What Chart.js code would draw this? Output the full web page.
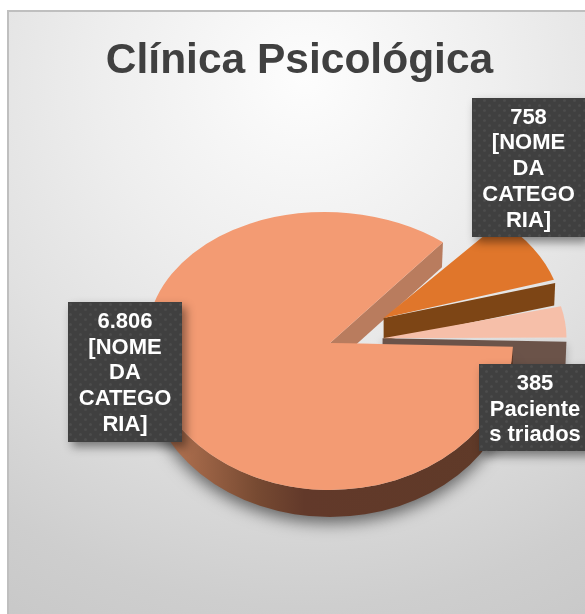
<!DOCTYPE html>
<html lang="pt-BR">
<head>
<meta charset="utf-8">
<title>Clínica Psicológica</title>
<script src="https://cdn.jsdelivr.net/npm/chart.js@4"></script>
<style>
html,body{margin:0;padding:0;width:585px;height:614px;overflow:hidden;background:#fff}
#card{position:absolute;left:7px;top:10px;width:590px;height:610px;border:2px solid #bfbfbf;border-right:0;border-bottom:0;
background:radial-gradient(circle 680px at 295px 65px,#fdfdfd 0,#eeeeee 200px,#e1e1e1 350px,#cecece 530px,#c4c4c4 680px)}
#c{position:absolute;left:7px;top:10px}
</style>
</head>
<body>
<div id="card"></div>
<canvas id="c" width="585" height="604"></canvas>
<script>
const chartTitle = 'Clínica Psicológica';
const categories = ['[NOME DA CATEGORIA]', '[NOME DA CATEGORIA]', 'Pacientes triados'];
const values = [6806, 758, 385];
const labelLines = [['[NOME', 'DA', 'CATEGO', 'RIA]'], ['[NOME', 'DA', 'CATEGO', 'RIA]'], ['Paciente', 's triados']];
const sliceColors = ['#f39b73', '#e0762b', '#f6bfa9'];
const sliceOffsets = [0, 256, 212];

const ORIGIN = {x: 7, y: 10};
const SQ_UP = 0.716, SQ_DN = 0.803, BACK_SHEAR = 0.04;
const RADIUS_FACTOR = [1, 0.975, 1.005];

function squash(ctx, y, s) { ctx.translate(0, y); ctx.scale(1, s); ctx.translate(0, -y); }

function wall(ctx, el, ang, depth, color, shadow, shear) {
  const off = (el.options.offset || 0) / 4;
  const mid = (el.startAngle + el.endAngle) / 2;
  const ax = el.x + Math.cos(mid) * off;
  const ay = el.y + Math.sin(mid) * off * SQ_UP;
  const R = el.outerRadius + off * (1 - Math.sin(Math.min(Math.PI, el.circumference)));
  const py = ay + Math.sin(ang) * R * SQ_UP;
  const px = ax + Math.cos(ang) * R + (shear ? shear * (py - el.y) : 0);
  ctx.save();
  if (shadow) { ctx.shadowColor = 'rgba(0,0,0,0.25)'; ctx.shadowBlur = 8; ctx.shadowOffsetY = 4; }
  ctx.fillStyle = color;
  ctx.beginPath();
  ctx.moveTo(ax, ay);
  ctx.lineTo(px, py);
  ctx.lineTo(px - 1, py + depth);
  ctx.lineTo(ax, ay + depth);
  ctx.closePath();
  ctx.fill();
  ctx.restore();
}

function topFace(ctx, el, s, shear) {
  ctx.save();
  if (shear) ctx.transform(1, 0, shear, 1, -shear * el.y, 0);
  squash(ctx, el.y, s);
  el.draw(ctx);
  ctx.restore();
}

function frontBand(ctx, el, depth) {
  const R = el.outerRadius, ry = R * SQ_DN;
  const g = ctx.createLinearGradient(el.x - R, 0, el.x + R, 0);
  g.addColorStop(0, '#cf8560');
  g.addColorStop(0.1, '#a96c4c');
  g.addColorStop(0.3, '#774a32');
  g.addColorStop(0.43, '#62392a');
  g.addColorStop(1, '#5f3a28');
  const sa = el.startAngle;
  ctx.save();
  ctx.shadowColor = 'rgba(0,0,0,0.55)';
  ctx.shadowBlur = 16;
  ctx.shadowOffsetY = 6;
  ctx.fillStyle = g;
  ctx.beginPath();
  ctx.ellipse(el.x, el.y, R, ry, 0, sa, Math.PI);
  ctx.ellipse(el.x, el.y + depth, R, ry, 0, Math.PI, sa, true);
  ctx.closePath();
  ctx.fill();
  ctx.restore();
}

function dotPattern(ctx) {
  const p = document.createElement('canvas');
  p.width = 10; p.height = 10;
  const c = p.getContext('2d');
  c.fillStyle = '#404040'; c.fillRect(0, 0, 10, 10);
  c.fillStyle = '#4c4c4c';
  [[2.5, 2.5], [7.5, 7.5]].forEach(([x, y]) => { c.beginPath(); c.arc(x, y, 1.5, 0, 7); c.fill(); });
  return ctx.createPattern(p, 'repeat');
}

const pie3d = {
  id: 'pie3d',
  afterLayout(chart) {
    const cx = 330 - ORIGIN.x, cy = 343 - ORIGIN.y, h = 200;
    Object.assign(chart.chartArea, {left: cx - h, right: cx + h, top: cy - h, bottom: cy + h, width: 2 * h, height: 2 * h});
  },
  afterDatasetsUpdate(chart) {
    chart.getDatasetMeta(0).data.forEach((el, i) => {
      const off = (el.options.offset || 0) / 4;
      const circ = el.circumference;
      el.outerRadius = chart.data.datasets[0].radius * RADIUS_FACTOR[i] - off * (1 - Math.sin(Math.min(Math.PI, circ)));
    });
  },
  beforeDatasetDraw(chart) {
    const ctx = chart.ctx;
    const [big, org, lgt] = chart.getDatasetMeta(0).data;
    wall(ctx, big, big.endAngle, 25, '#b97c5e', false, BACK_SHEAR);
    wall(ctx, org, org.endAngle, 22.5, '#7d4515', false);
    topFace(ctx, org, SQ_UP);
    wall(ctx, lgt, lgt.endAngle, 24, '#6b5349', true);
    topFace(ctx, lgt, SQ_UP);
    frontBand(ctx, big, 27);
    ctx.save();
    ctx.beginPath(); ctx.rect(0, 0, chart.width, big.y + 0.5); ctx.clip();
    topFace(ctx, big, SQ_UP, BACK_SHEAR);
    ctx.restore();
    ctx.save();
    ctx.beginPath(); ctx.rect(0, big.y, chart.width, chart.height); ctx.clip();
    topFace(ctx, big, SQ_DN);
    ctx.restore();
    return false;
  },
  afterDatasetsDraw(chart) {
    const ctx = chart.ctx;
    const boxes = [[68, 302, 114, 140, 320.7], [472, 98, 113, 139, 116.5], [479, 364, 112, 87, 382.7]];
    const pat = dotPattern(ctx);
    boxes.forEach((b, i) => {
      const x = b[0] - ORIGIN.x, y = b[1] - ORIGIN.y;
      ctx.save();
      ctx.shadowColor = 'rgba(0,0,0,0.45)';
      ctx.shadowBlur = 9;
      ctx.shadowOffsetX = 4;
      ctx.shadowOffsetY = 5;
      ctx.fillStyle = '#404040';
      ctx.fillRect(x, y, b[2], b[3]);
      ctx.restore();
      ctx.save();
      ctx.translate(x, y);
      ctx.fillStyle = pat;
      ctx.fillRect(0, 0, b[2], b[3]);
      ctx.restore();
      ctx.save();
      ctx.fillStyle = '#ffffff';
      ctx.font = 'bold 22px "Liberation Sans", Arial, sans-serif';
      ctx.textAlign = 'center';
      ctx.textBaseline = 'middle';
      const lines = [values[i].toLocaleString('pt-BR')].concat(labelLines[i]);
      lines.forEach((t, k) => ctx.fillText(t, x + b[2] / 2, b[4] - ORIGIN.y + k * 25.8 + 1));
      ctx.restore();
    });
  }
};

new Chart(document.getElementById('c'), {
  type: 'pie',
  data: {
    labels: categories,
    datasets: [{
      data: values,
      backgroundColor: sliceColors,
      borderWidth: 0,
      offset: sliceOffsets,
      radius: 183,
      clip: false
    }]
  },
  options: {
    responsive: false,
    animation: false,
    rotation: 91.5,
    layout: {padding: 0},
    plugins: {
      legend: {display: false},
      tooltip: {enabled: false},
      title: {
        display: true,
        text: chartTitle,
        color: '#404040',
        font: {family: '"Liberation Sans", Arial, sans-serif', size: 42.5, weight: 'bold', lineHeight: 1.2},
        padding: {top: 26, bottom: 0}
      }
    }
  },
  plugins: [pie3d]
});
</script>
</body>
</html>
